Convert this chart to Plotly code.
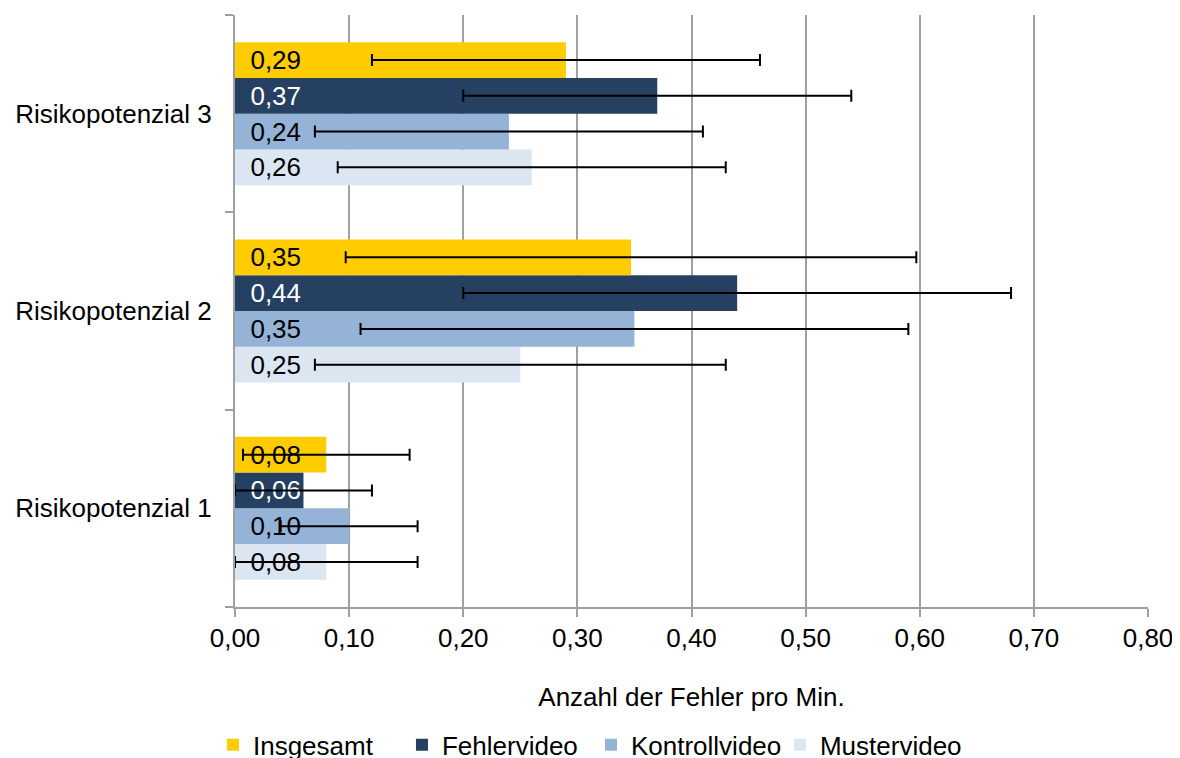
import plotly.graph_objects as go

# ---- data ----
categories = ["Risikopotenzial 1", "Risikopotenzial 2", "Risikopotenzial 3"]
series_names = ["Insgesamt", "Fehlervideo", "Kontrollvideo", "Mustervideo"]
insgesamt = [0.08, 0.347, 0.29]
fehlervideo = [0.06, 0.44, 0.37]
kontrollvideo = [0.10, 0.35, 0.24]
mustervideo = [0.08, 0.25, 0.26]
err_insgesamt = [0.073, 0.25, 0.17]
err_fehlervideo = [0.06, 0.24, 0.17]
err_kontrollvideo = [0.06, 0.24, 0.17]
err_mustervideo = [0.08, 0.18, 0.17]
x_ticks = [0.0, 0.1, 0.2, 0.3, 0.4, 0.5, 0.6, 0.7, 0.8]

colors = {"Insgesamt": "#FFCC00", "Fehlervideo": "#254061",
          "Kontrollvideo": "#95B3D7", "Mustervideo": "#DCE6F2"}
label_colors = {"Insgesamt": "black", "Fehlervideo": "white",
                "Kontrollvideo": "black", "Mustervideo": "black"}

values = {"Insgesamt": insgesamt, "Fehlervideo": fehlervideo,
          "Kontrollvideo": kontrollvideo, "Mustervideo": mustervideo}
errors = {"Insgesamt": err_insgesamt, "Fehlervideo": err_fehlervideo,
          "Kontrollvideo": err_kontrollvideo, "Mustervideo": err_mustervideo}

FONT = "Liberation Sans, Arial, sans-serif"
GRID = "#A0A0A0"

fig = go.Figure()
# add bottom-most series first so Insgesamt is at the top of each group
for name in reversed(series_names):
    vals = values[name]
    fig.add_trace(go.Bar(
        name=name,
        y=categories,
        x=vals,
        orientation="h",
        marker=dict(color=colors[name], line=dict(width=0)),
        text=["\u00a0\u2009" + f"{v:.2f}".replace(".", ",") for v in vals],
        textposition="inside",
        insidetextanchor="start",
        textangle=0,
        textfont=dict(family=FONT, size=26, color=label_colors[name]),
        error_x=dict(type="data", array=errors[name], color="black",
                     thickness=2, width=6),
        cliponaxis=False,
    ))

fig.update_layout(
    width=1180, height=758,
    margin=dict(l=227, r=40, t=7, b=159, autoexpand=False),
    paper_bgcolor="white", plot_bgcolor="white",
    barmode="group", bargap=0.275, bargroupgap=0,
    separators=",.",
    font=dict(family=FONT, size=26, color="black"),
    uniformtext=dict(minsize=26, mode="show"),
    showlegend=True,
    legend=dict(orientation="h", traceorder="reversed",
                xref="container", x=0.1737, xanchor="left",
                yref="container", y=0.028, yanchor="middle",
                entrywidth=144, entrywidthmode="pixels",
                font=dict(family=FONT, size=26, color="black"),
                bgcolor="rgba(0,0,0,0)"),
)
fig.update_xaxes(
    range=[0, 0.8], tickvals=x_ticks, tickformat=".2f",
    automargin=False,
    showgrid=True, gridcolor=GRID, gridwidth=2,
    zeroline=False,
    showline=True, linecolor=GRID, linewidth=2,
    ticks="outside", ticklen=8, tickcolor=GRID, tickwidth=2,
    ticklabelstandoff=-1,
    tickfont=dict(family=FONT, size=26, color="black"),
    title=dict(text="Anzahl der Fehler pro Min.", standoff=36,
               font=dict(family=FONT, size=26, color="black")),
)
fig.update_yaxes(
    type="category", categoryorder="array", categoryarray=categories,
    automargin=False,
    showgrid=False, zeroline=False,
    showline=True, linecolor=GRID, linewidth=2,
    ticks="outside", tickson="boundaries", ticklen=8, tickcolor=GRID, tickwidth=2,
    ticklabelstandoff=16,
    tickfont=dict(family=FONT, size=26, color="black"),
)

fig.write_html("out.html")
